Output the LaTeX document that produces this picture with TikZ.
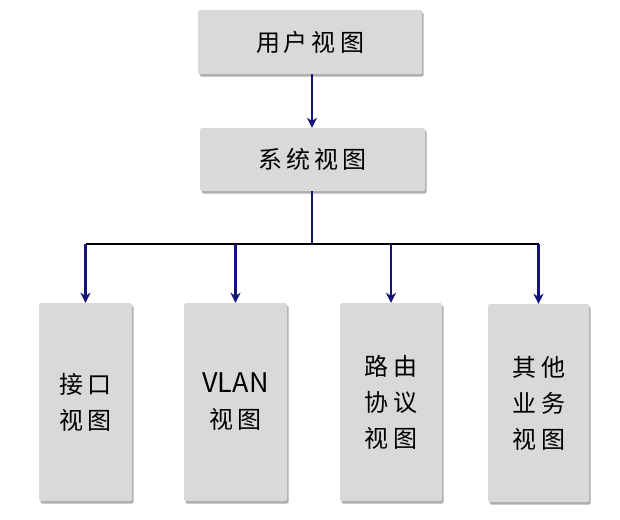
\documentclass[tikz,border=0pt]{standalone}
\usepackage{fontspec}
\newfontfamily\cjk{Noto Sans CJK SC}
\usetikzlibrary{arrows.meta,shadows}
\definecolor{boxgray}{HTML}{D9D9D9}
\definecolor{navyline}{HTML}{14147A}
\begin{document}
\begin{tikzpicture}[x=1pt,y=-1pt,
  box/.style={fill=boxgray, draw=none, rounded corners=1.5pt,
    drop shadow={shadow xshift=1.5pt, shadow yshift=-2.5pt, opacity=0.45, fill=black!70},
    inner sep=0pt, font=\cjk\fontsize{24}{36}\selectfont, align=center},
  conn/.style={draw=navyline, line width=2.2pt},
  arr/.style={conn, -{Stealth[length=10pt,width=10pt,inset=3pt]}},
  hline/.style={draw=black, line width=2.2pt},
]
\useasboundingbox (0,0) rectangle (620,519);
\node[box, minimum width=224pt, minimum height=64pt] (user) at (310,42)
  {用\hspace{4pt}户\hspace{4pt}视\hspace{4pt}图};
\node[box, minimum width=225pt, minimum height=63pt] (sys) at (312.5,159.5)
  {系\hspace{4pt}统\hspace{4pt}视\hspace{4pt}图};
\node[box, minimum width=93pt, minimum height=198pt] (a) at (85.5,402)
  {接\hspace{5pt}口\\视\hspace{5pt}图};
\node[box, minimum width=103pt, minimum height=198pt] (b) at (235.5,402)
  {\fontsize{27}{36}\selectfont VLAN\\视\hspace{5pt}图};
\node[box, minimum width=102pt, minimum height=198pt] (c) at (391,402)
  {路\hspace{5pt}由\\协\hspace{5pt}议\\视\hspace{5pt}图};
\node[box, minimum width=101pt, minimum height=198pt] (d) at (538.5,403)
  {其\hspace{5pt}他\\业\hspace{5pt}务\\视\hspace{5pt}图};
\coordinate (j) at (312,244);
\draw[arr] (user.south -| j) -- (sys.north -| j);
\draw[conn] (sys.south -| j) -- (j);
\draw[hline] (a.north |- j) -- (d.north |- j);
\draw[arr] (a.north |- j) -- (a.north);
\draw[arr] (b.north |- j) -- (b.north);
\draw[arr] (c.north |- j) -- (c.north);
\draw[arr] (d.north |- j) -- (d.north);
\end{tikzpicture}
\end{document}
